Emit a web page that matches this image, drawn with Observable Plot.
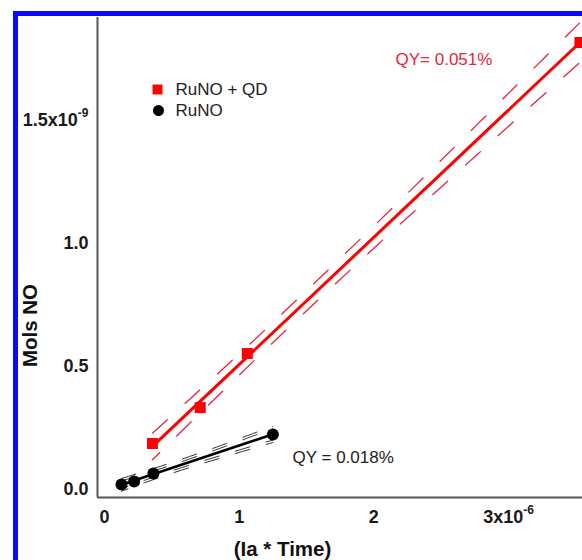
<!DOCTYPE html>
<html><head><meta charset="utf-8">
<script src="https://cdn.jsdelivr.net/npm/d3@7"></script>
<script src="https://cdn.jsdelivr.net/npm/@observablehq/plot@0.6"></script>
<style>
html,body{margin:0;padding:0;background:#fff;overflow:hidden;}
#wrap{position:relative;width:582px;height:560px;overflow:hidden;background:#fff;}
#chart{position:absolute;left:0;top:0;}
#border{position:absolute;left:13px;top:11px;width:800px;height:800px;border-left:5px solid #0a0aff;border-top:5px solid #0a0aff;}
</style></head><body>
<div id="wrap"><div id="chart"></div><div id="border"></div></div>
<script>
// Data (x: Ia*Time, y: mols NO)
const xRuNOQD = [0.356e-6, 0.711e-6, 1.06e-6, 3.53e-6];
const yRuNOQD = [0.187e-9, 0.333e-9, 0.553e-9, 1.817e-9];
const xRuNO = [0.126e-6, 0.22e-6, 0.363e-6, 1.25e-6];
const yRuNO = [0.020e-9, 0.033e-9, 0.065e-9, 0.224e-9];

// confidence band lines
const bandQDx = [0.356e-6, 1.0e-6, 1.41e-6, 2.0e-6, 2.6e-6, 3.2e-6, 3.53e-6];
const bandQDupper = [0.229e-9, 0.551e-9, 0.762e-9, 1.071e-9, 1.393e-9, 1.719e-9, 1.898e-9];
const bandQDlower = [0.121e-9, 0.465e-9, 0.680e-9, 0.981e-9, 1.279e-9, 1.575e-9, 1.736e-9];

const bandRux = [0.126e-6, 0.3e-6, 0.49e-6, 0.7e-6, 0.9e-6, 1.1e-6, 1.25e-6];
const bandRuUpperIn = [0.035e-9, 0.064e-9, 0.098e-9, 0.137e-9, 0.176e-9, 0.217e-9, 0.247e-9];
const bandRuUpperOut = [0.045e-9, 0.074e-9, 0.108e-9, 0.147e-9, 0.186e-9, 0.227e-9, 0.257e-9];
const bandRuLowerIn = [0.003e-9, 0.038e-9, 0.074e-9, 0.111e-9, 0.144e-9, 0.177e-9, 0.201e-9];
const bandRuLowerOut = [-0.007e-9, 0.028e-9, 0.064e-9, 0.101e-9, 0.134e-9, 0.167e-9, 0.191e-9];

const xTicks = [0, 1e-6, 2e-6, 3e-6];
const xTickLabels = ["0", "1", "2", "3x10^-6"];
const yTicks = [0, 0.5e-9, 1.0e-9, 1.5e-9];
const yTickLabels = ["0.0", "0.5", "1.0", "1.5x10^-9"];

const seriesNames = ["RuNO + QD", "RuNO"];
const qyLabels = ["QY= 0.051%", "QY = 0.018%"];
const xTitle = "(Ia * Time)";
const yTitle = "Mols NO";

const xDomain = [-0.052e-6, 3.549e-6];
const yDomain = [-0.0325e-9, 1.9187e-9];

const qd = xRuNOQD.map((x, i) => ({x, y: yRuNOQD[i]}));
const ru = xRuNO.map((x, i) => ({x, y: yRuNO[i]}));
const bandQD = bandQDx.map((x, i) => ({x, u: bandQDupper[i], l: bandQDlower[i]}));
const bandRu = bandRux.map((x, i) => ({x, ui: bandRuUpperIn[i], uo: bandRuUpperOut[i], li: bandRuLowerIn[i], lo: bandRuLowerOut[i]}));

const xMap = new Map(xTicks.map((t, i) => [t, xTickLabels[i]]));
const yMap = new Map(yTicks.map((t, i) => [t, yTickLabels[i]]));

const RED = "#ff0000";
const DASHRED = "#e2283c";
const font = "'Liberation Sans', Arial, Helvetica, sans-serif";

const chart = Plot.plot({
  width: 582, height: 560,
  marginLeft: 97, marginRight: 0, marginTop: 17, marginBottom: 63,
  style: {fontFamily: font, background: "transparent", overflow: "hidden"},
  x: {domain: xDomain},
  y: {domain: yDomain},
  marks: [
    Plot.axisX(xTicks, {tickSize: 0, tickPadding: 13, tickFormat: d => xMap.get(d), fontSize: 18, fontWeight: "bold", fill: "#1a1a1a", label: null}),
    Plot.axisY(yTicks, {tickSize: 0, tickPadding: 9, tickFormat: d => yMap.get(d), fontSize: 18, fontWeight: "bold", fill: "#1a1a1a", label: null}),
    Plot.ruleX([xDomain[0]], {stroke: "#555", strokeWidth: 2}),
    Plot.ruleY([yDomain[0]], {stroke: "#555", strokeWidth: 2.2}),
    // red confidence band
    Plot.line(bandQD, {x: "x", y: "u", curve: "natural", stroke: DASHRED, strokeWidth: 1.3, strokeDasharray: "20,24"}),
    Plot.line(bandQD, {x: "x", y: "l", curve: "natural", stroke: DASHRED, strokeWidth: 1.3, strokeDasharray: "20,24", strokeDashoffset: 10}),
    // black confidence bands (double)
    Plot.line(bandRu, {x: "x", y: "ui", curve: "natural", stroke: "#333", strokeWidth: 1, strokeDasharray: "15,17"}),
    Plot.line(bandRu, {x: "x", y: "uo", curve: "natural", stroke: "#333", strokeWidth: 1, strokeDasharray: "15,17"}),
    Plot.line(bandRu, {x: "x", y: "li", curve: "natural", stroke: "#333", strokeWidth: 1, strokeDasharray: "15,17", strokeDashoffset: 8}),
    Plot.line(bandRu, {x: "x", y: "lo", curve: "natural", stroke: "#333", strokeWidth: 1, strokeDasharray: "15,17", strokeDashoffset: 8}),
    // regression lines
    Plot.linearRegressionY(qd, {x: "x", y: "y", ci: 0, stroke: RED, strokeWidth: 3}),
    Plot.linearRegressionY(ru, {x: "x", y: "y", ci: 0, stroke: "#000", strokeWidth: 2.6}),
    // points
    Plot.dot(qd, {x: "x", y: "y", symbol: "square", r: 6.2, fill: RED, stroke: "none"}),
    Plot.dot(ru, {x: "x", y: "y", symbol: "circle", r: 6, fill: "#000", stroke: "none"}),
    // legend
    Plot.dot([seriesNames[0]], {frameAnchor: "top-left", dx: 60, dy: 72, symbol: "square", r: 5.6, fill: RED, stroke: "none"}),
    Plot.dot([seriesNames[1]], {frameAnchor: "top-left", dx: 61, dy: 93, symbol: "circle", r: 5.5, fill: "#000", stroke: "none"}),
    Plot.text([seriesNames[0]], {frameAnchor: "top-left", dx: 78, dy: 72, text: d => d, textAnchor: "start", lineAnchor: "middle", fontSize: 17, fill: "#222"}),
    Plot.text([seriesNames[1]], {frameAnchor: "top-left", dx: 78, dy: 93, text: d => d, textAnchor: "start", lineAnchor: "middle", fontSize: 17, fill: "#222"}),
    // QY annotations
    Plot.text([qyLabels[0]], {frameAnchor: "top-left", dx: 298, dy: 42, text: d => d, textAnchor: "start", lineAnchor: "middle", fontSize: 17, fill: "#e3283c"}),
    Plot.text([qyLabels[1]], {frameAnchor: "top-left", dx: 195, dy: 440, text: d => d, textAnchor: "start", lineAnchor: "middle", fontSize: 17, fill: "#222"}),
    // axis titles
    Plot.text([yTitle], {frameAnchor: "left", dx: -67, dy: 68, rotate: -90, text: d => d, textAnchor: "middle", lineAnchor: "middle", fontSize: 20.5, fontWeight: "bold", fill: "#111"}),
    Plot.text([xTitle], {frameAnchor: "bottom-left", dx: 185, dy: 52, text: d => d, textAnchor: "middle", lineAnchor: "middle", fontSize: 20.5, fontWeight: "bold", fill: "#111"})
  ]
});

// superscripts for exponent tick labels
chart.querySelectorAll("text").forEach(t => {
  const s = t.textContent;
  if (s.includes("^")) {
    const [base, sup] = s.split("^");
    t.textContent = "";
    const a = document.createElementNS("http://www.w3.org/2000/svg", "tspan");
    a.textContent = base;
    const b = document.createElementNS("http://www.w3.org/2000/svg", "tspan");
    b.textContent = sup;
    b.setAttribute("font-size", "12");
    b.setAttribute("dy", "-9");
    t.appendChild(a); t.appendChild(b);
  }
});
document.getElementById("chart").appendChild(chart);
</script>
</body></html>
